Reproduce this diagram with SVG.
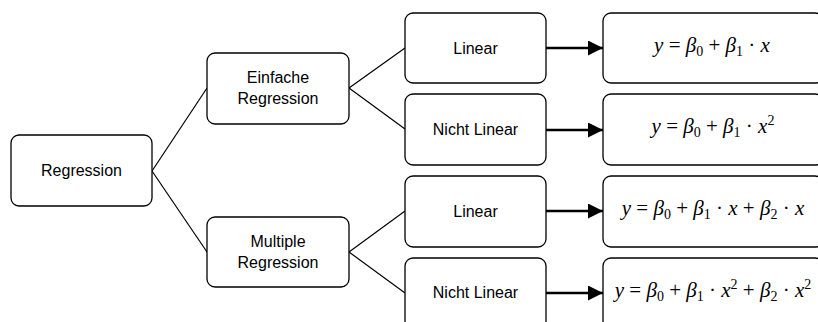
<svg xmlns="http://www.w3.org/2000/svg" width="818" height="322" viewBox="0 0 818 322">
  <style>
    .box { fill: #ffffff; stroke: #000000; stroke-width: 1.3; }
    .lbl { font-family: "Liberation Sans", Arial, sans-serif; font-size: 16px; fill: #000000; text-anchor: middle; }
    .eq { font-family: "Liberation Serif", "Times New Roman", serif; font-size: 21px; fill: #000000; text-anchor: middle; }
    .v { font-style: italic; }
    .s { font-size: 14px; }
    .link { stroke: #000000; stroke-width: 1.2; fill: none; }
    .arrow { stroke: #000000; stroke-width: 2.6; fill: none; marker-end: url(#head); }
  </style>
  <defs>
    <marker id="head" viewBox="0 0 10 10" refX="10" refY="5" markerUnits="userSpaceOnUse" markerWidth="17" markerHeight="15" orient="auto">
      <path d="M0,0 L10,5 L0,10 Z" fill="#000000"/>
    </marker>
  </defs>

  <!-- connectors -->
  <g id="connectors">
    <line class="link" x1="152" y1="171" x2="207" y2="88"/>
    <line class="link" x1="152" y1="171" x2="207" y2="252"/>
    <line class="link" x1="349" y1="88" x2="405" y2="48"/>
    <line class="link" x1="349" y1="88" x2="405" y2="129"/>
    <line class="link" x1="349" y1="252" x2="405" y2="211"/>
    <line class="link" x1="349" y1="252" x2="405" y2="293"/>
    <line class="arrow" x1="546" y1="48" x2="603" y2="48"/>
    <line class="arrow" x1="546" y1="130" x2="603" y2="130"/>
    <line class="arrow" x1="546" y1="211" x2="603" y2="211"/>
    <line class="arrow" x1="546" y1="293" x2="603" y2="293"/>
  </g>

  <!-- root -->
  <g id="regression">
    <rect class="box" x="11" y="135" width="141" height="71" rx="8"/>
    <text class="lbl" x="81.5" y="176">Regression</text>
  </g>

  <!-- second level -->
  <g id="einfache">
    <rect class="box" x="207" y="53" width="142" height="71" rx="8"/>
    <text class="lbl" x="278" y="83">Einfache</text>
    <text class="lbl" x="278" y="104">Regression</text>
  </g>
  <g id="multiple">
    <rect class="box" x="207" y="217" width="142" height="70" rx="8"/>
    <text class="lbl" x="278" y="247">Multiple</text>
    <text class="lbl" x="278" y="268">Regression</text>
  </g>

  <!-- third level -->
  <g id="einfache-linear">
    <rect class="box" x="405" y="13" width="141" height="70" rx="8"/>
    <text class="lbl" x="475.5" y="54">Linear</text>
  </g>
  <g id="einfache-nichtlinear">
    <rect class="box" x="405" y="94" width="141" height="71" rx="8"/>
    <text class="lbl" x="475.5" y="135">Nicht Linear</text>
  </g>
  <g id="multiple-linear">
    <rect class="box" x="405" y="176" width="141" height="71" rx="8"/>
    <text class="lbl" x="475.5" y="217">Linear</text>
  </g>
  <g id="multiple-nichtlinear">
    <rect class="box" x="405" y="258" width="141" height="71" rx="8"/>
    <text class="lbl" x="475.5" y="298">Nicht Linear</text>
  </g>

  <!-- model equations -->
  <g id="eq-einfache-linear">
    <rect class="box" x="603" y="13" width="220" height="70" rx="8"/>
    <text class="eq" x="712" y="52"><tspan class="v">y</tspan> = <tspan class="v">β</tspan><tspan class="s" dy="4">0</tspan><tspan dy="-4"> + </tspan><tspan class="v">β</tspan><tspan class="s" dy="4">1</tspan><tspan dy="-4"> · </tspan><tspan class="v">x</tspan></text>
  </g>
  <g id="eq-einfache-nichtlinear">
    <rect class="box" x="603" y="94" width="220" height="71" rx="8"/>
    <text class="eq" x="713" y="133"><tspan class="v">y</tspan> = <tspan class="v">β</tspan><tspan class="s" dy="4">0</tspan><tspan dy="-4"> + </tspan><tspan class="v">β</tspan><tspan class="s" dy="4">1</tspan><tspan dy="-4"> · </tspan><tspan class="v">x</tspan><tspan class="s" dy="-8">2</tspan></text>
  </g>
  <g id="eq-multiple-linear">
    <rect class="box" x="603" y="176" width="220" height="71" rx="8"/>
    <text class="eq" x="713" y="215"><tspan class="v">y</tspan> = <tspan class="v">β</tspan><tspan class="s" dy="4">0</tspan><tspan dy="-4"> + </tspan><tspan class="v">β</tspan><tspan class="s" dy="4">1</tspan><tspan dy="-4"> · </tspan><tspan class="v">x</tspan> + <tspan class="v">β</tspan><tspan class="s" dy="4">2</tspan><tspan dy="-4"> · </tspan><tspan class="v">x</tspan></text>
  </g>
  <g id="eq-multiple-nichtlinear">
    <rect class="box" x="603" y="258" width="220" height="71" rx="8"/>
    <text class="eq" x="713" y="297"><tspan class="v">y</tspan> = <tspan class="v">β</tspan><tspan class="s" dy="4">0</tspan><tspan dy="-4"> + </tspan><tspan class="v">β</tspan><tspan class="s" dy="4">1</tspan><tspan dy="-4"> · </tspan><tspan class="v">x</tspan><tspan class="s" dy="-8">2</tspan><tspan dy="8"> + </tspan><tspan class="v">β</tspan><tspan class="s" dy="4">2</tspan><tspan dy="-4"> · </tspan><tspan class="v">x</tspan><tspan class="s" dy="-8">2</tspan></text>
  </g>
</svg>
